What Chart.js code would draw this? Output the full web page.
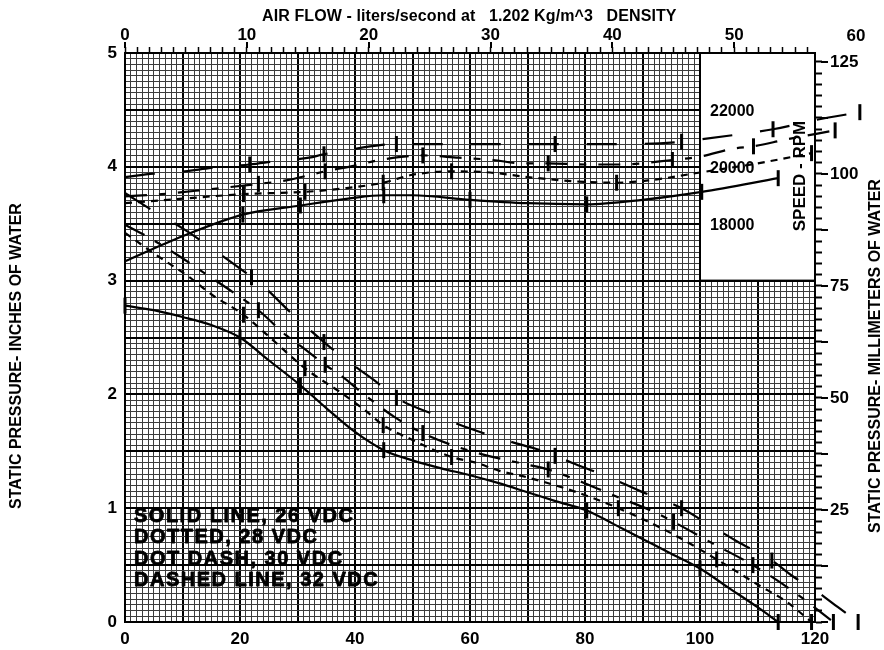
<!DOCTYPE html>
<html>
<head>
<meta charset="utf-8">
<title>Fan performance</title>
<script src="https://cdn.jsdelivr.net/npm/chart.js@4/dist/chart.umd.min.js"></script>
<style>
  html, body { margin: 0; padding: 0; background: #fff; }
  canvas { display: block; }
</style>
</head>
<body>
<canvas id="fan" width="884" height="650"></canvas>
<script>
// ---- Static pressure (in. of water) against air flow (CFM) ----
const flow26P  = [0, 5, 10, 15, 20, 25, 30.5, 35, 40, 45, 50, 55, 60, 65, 70, 75, 80.3, 85, 90, 95, 100, 105, 110, 113.6];
const press26  = [2.78, 2.74, 2.68, 2.61, 2.50, 2.30, 2.08, 1.88, 1.67, 1.51, 1.42, 1.35, 1.29, 1.22, 1.14, 1.06, 0.98, 0.86, 0.73, 0.60, 0.47, 0.30, 0.13, 0];
const marks26P = [0, 20, 30.5, 45, 80.3, 100, 113.6];

const flow28P  = [0, 5, 11.2, 15, 20.6, 25, 31.3, 38, 42, 44.9, 50, 56.8, 61, 65, 70, 78, 85.8, 95, 102.9, 110, 115, 119.4];
const press28  = [3.42, 3.24, 3.03, 2.88, 2.70, 2.51, 2.23, 2.00, 1.85, 1.73, 1.60, 1.45, 1.40, 1.33, 1.27, 1.15, 1.00, 0.78, 0.55, 0.33, 0.18, 0];
const marks28P = [20.6, 31.3, 44.9, 56.8, 85.8, 102.9, 119.4];

const flow30P  = [0, 3.4, 9.6, 13.1, 19, 23.2, 28, 31.5, 34.8, 37.7, 41.3, 46.9, 51.8, 57.7, 61.7, 69.3, 73.6, 80.9, 84.6, 91.9, 95.4, 102.6, 109.2, 116.2, 123.2];
const press30  = [3.49, 3.40, 3.21, 3.09, 2.89, 2.74, 2.52, 2.39, 2.26, 2.16, 2.01, 1.80, 1.66, 1.54, 1.48, 1.39, 1.34, 1.20, 1.12, 0.97, 0.88, 0.68, 0.50, 0.27, 0];
const marks30P = [23.2, 34.8, 51.8, 73.6, 95.4, 109.2, 123.2];

const flow32P  = [0, 5, 10.3, 14.9, 19.9, 22, 24.3, 29, 34.6, 38.5, 43.2, 47.2, 53.9, 60, 66, 72.8, 74.8, 77.7, 83.8, 89.6, 96.8, 100.8, 106.4, 112.5, 116.2, 120.3, 124, 127.5];
const press32  = [3.77, 3.61, 3.45, 3.29, 3.11, 3.03, 2.94, 2.71, 2.46, 2.30, 2.13, 1.97, 1.82, 1.70, 1.60, 1.50, 1.46, 1.40, 1.28, 1.15, 1.00, 0.88, 0.71, 0.54, 0.40, 0.27, 0.13, 0];
const marks32P = [22, 34.6, 47.2, 74.8, 96.8, 112.5, 127.5];

// ---- Fan speed (RPM) against air flow (CFM) ----
const flow26S  = [0, 10, 20.5, 30.5, 38.8, 45, 50, 60, 70, 80.3, 90, 100.3, 113.6];
const rpm26    = [16680, 17560, 18320, 18640, 18880, 19000, 19000, 18840, 18720, 18680, 18840, 19120, 19600];
const marks26S = [20.5, 30.5, 45, 60, 80.3, 100.3, 113.6];

const flow28S  = [0, 10, 20.6, 31.3, 38, 44.9, 50, 56.8, 63.5, 70, 79, 85.5, 91, 100, 110, 119.4];
const rpm28    = [18720, 18880, 19040, 19120, 19240, 19440, 19720, 19840, 19800, 19640, 19480, 19440, 19520, 19800, 20120, 20480];
const marks28S = [20.6, 31.3, 44.9, 56.8, 85.5, 119.4];

const flow30S  = [0, 6.4, 14.2, 23.2, 28, 34.8, 40, 44.3, 51.8, 58, 64, 69, 73.6, 80, 86, 95.2, 100, 105.8, 109.3, 115, 123.5];
const rpm30    = [18960, 19040, 19200, 19400, 19520, 19840, 20040, 20240, 20400, 20320, 20240, 20120, 20120, 20080, 20080, 20240, 20360, 20640, 20720, 20960, 21280];
const marks30S = [23.2, 34.8, 51.8, 73.6, 95.2, 109.3, 123.5];

const flow32S  = [0, 5, 10.4, 15, 21.7, 26.4, 32, 34.6, 37.1, 42.6, 47.2, 55, 65, 74.8, 87, 96.8, 100, 106, 112.7, 120, 127.8];
const rpm32    = [19640, 19760, 19840, 19960, 20080, 20200, 20320, 20440, 20520, 20720, 20800, 20800, 20800, 20800, 20800, 20880, 20960, 21120, 21320, 21640, 21920];
const marks32S = [21.7, 34.6, 47.2, 74.8, 96.8, 112.7, 127.8];

// ---- Axis labels ----
const cfmLabels  = [0, 20, 40, 60, 80, 100, 120];
const lpsLabels  = [0, 10, 20, 30, 40, 50, 60];
const inchLabels = [0, 1, 2, 3, 4, 5];
const mmLabels   = [25, 50, 75, 100, 125];
const rpmLabels  = [22000, 20000, 18000];
const legendLines = ['SOLID LINE, 26 VDC', 'DOTTED, 28 VDC', 'DOT DASH, 30 VDC', 'DASHED LINE, 32 VDC'];

const LPS_PER_CFM = 0.4719474;
const MM_PER_IN = 25.4;
const FONT = "'Liberation Sans', Arial, Helvetica, sans-serif";

function curve(label, flows, values, marks, dash, axis) {
  return {
    label,
    yAxisID: axis,
    data: flows.map((f, i) => ({ x: f, y: values[i] })),
    borderColor: '#000',
    borderWidth: 2.2,
    borderDash: dash,
    cubicInterpolationMode: 'monotone',
    fill: false,
    clip: false,
    pointStyle: 'line',
    pointRotation: 90,
    pointRadius: c => marks.includes(flows[c.dataIndex]) ? 8 : 0,
    pointHoverRadius: 0,
    pointBorderWidth: 3,
    pointBorderColor: '#000',
    pointBackgroundColor: '#000'
  };
}

const SOLID = [], DOTTED = [7, 6], DOTDASH = [22, 12, 7, 12], DASHED = [30, 28];

const isStep = (v, s) => Math.abs(v / s - Math.round(v / s)) < 1e-6;

// Labels, panel and axis captions drawn on the canvas around the plot
const annotate = {
  id: 'annotate',
  beforeDatasetsDraw(chart) {
    const { ctx, scales: { x, y, yr } } = chart;
    // blank panel in the upper-right corner holding the speed captions
    const l = x.getPixelForValue(100), r = x.getPixelForValue(120);
    const t = y.getPixelForValue(5), b = y.getPixelForValue(3);
    ctx.save();
    ctx.fillStyle = '#fff';
    ctx.fillRect(l, t, r - l, b - t);
    ctx.strokeStyle = '#000';
    ctx.lineWidth = 2;
    ctx.strokeRect(l, t, r - l, b - t);

    ctx.fillStyle = '#000';
    ctx.font = 'bold 16px ' + FONT;
    ctx.textAlign = 'left';
    ctx.textBaseline = 'middle';
    rpmLabels.forEach(v => ctx.fillText(String(v), 710, yr.getPixelForValue(v) + 2));

    ctx.save();
    ctx.translate(800, 176);
    ctx.rotate(-Math.PI / 2);
    ctx.textAlign = 'center';
    ctx.font = 'bold 17px ' + FONT;
    ctx.fillText('SPEED - RPM', 0, 0);
    ctx.restore();

    // line-style key, heavy lettering
    ctx.font = 'bold 20px ' + FONT;
    ctx.letterSpacing = '1.5px';
    ctx.strokeStyle = '#000';
    ctx.lineWidth = 0.8;
    ctx.lineJoin = 'round';
    legendLines.forEach((s, i) => {
      ctx.fillText(s, 134, 516 + i * 21.5);
      ctx.strokeText(s, 134, 516 + i * 21.5);
    });
    ctx.restore();
  },
  afterDatasetsDraw(chart) {
    const { ctx, chartArea: ca, scales: { x2, y2 } } = chart;
    // test-point marks that sit past the plot edge
    const full = { left: 0, top: 0, right: chart.width, bottom: chart.height };
    chart.data.datasets.forEach((ds, i) => {
      chart.getDatasetMeta(i).data.forEach(pt => {
        if (pt.x > ca.right + 1 || pt.x < ca.left - 1 || pt.y > ca.bottom + 1 || pt.y < ca.top - 1) {
          pt.draw(ctx, full);
        }
      });
    });

    ctx.save();
    ctx.strokeStyle = '#000';
    // longer marks at the labelled divisions of the top and right scales
    ctx.lineWidth = 2;
    lpsLabels.forEach(v => {
      if (v > x2.max) return;
      const px = Math.round(x2.getPixelForValue(v));
      ctx.beginPath(); ctx.moveTo(px, ca.top - 5); ctx.lineTo(px, ca.top - 11); ctx.stroke();
    });
    for (let v = 0; v <= y2.max; v += 12.5) {
      const py = Math.round(y2.getPixelForValue(v));
      ctx.beginPath(); ctx.moveTo(ca.right + 6, py); ctx.lineTo(ca.right + 13, py); ctx.stroke();
    }

    ctx.fillStyle = '#000';
    ctx.font = 'bold 17px ' + FONT;
    ctx.textAlign = 'center';
    ctx.textBaseline = 'middle';
    lpsLabels.forEach(v => {
      if (v > x2.max) ctx.fillText(String(v), x2.getPixelForValue(v), 36);
    });

    ctx.font = 'bold 16px ' + FONT;
    ctx.textAlign = 'left';
    ctx.letterSpacing = '0.1px';
    ctx.fillText('AIR FLOW - liters/second at   1.202 Kg/m^3   DENSITY', 262, 17);
    ctx.letterSpacing = '0px';

    ctx.textAlign = 'center';
    ctx.save();
    ctx.translate(17, 356);
    ctx.rotate(-Math.PI / 2);
    ctx.fillText('STATIC PRESSURE- INCHES OF WATER', 0, 0);
    ctx.restore();
    ctx.save();
    ctx.translate(876, 356);
    ctx.rotate(-Math.PI / 2);
    ctx.fillText('STATIC PRESSURE- MILLIMETERS OF WATER', 0, 0);
    ctx.restore();
    ctx.restore();
  }
};

const tickFont = { family: FONT, size: 17, weight: 'bold' };

new Chart(document.getElementById('fan'), {
  type: 'line',
  data: {
    datasets: [
      curve('26 VDC pressure', flow26P, press26, marks26P, SOLID, 'y'),
      curve('28 VDC pressure', flow28P, press28, marks28P, DOTTED, 'y'),
      curve('30 VDC pressure', flow30P, press30, marks30P, DOTDASH, 'y'),
      curve('32 VDC pressure', flow32P, press32, marks32P, DASHED, 'y'),
      curve('26 VDC speed', flow26S, rpm26, marks26S, SOLID, 'yr'),
      curve('28 VDC speed', flow28S, rpm28, marks28S, DOTTED, 'yr'),
      curve('30 VDC speed', flow30S, rpm30, marks30S, DOTDASH, 'yr'),
      curve('32 VDC speed', flow32S, rpm32, marks32S, DASHED, 'yr')
    ]
  },
  options: {
    responsive: false,
    devicePixelRatio: 1,
    animation: false,
    events: [],
    layout: { padding: 0 },
    plugins: { legend: { display: false }, tooltip: { enabled: false } },
    scales: {
      x: {
        type: 'linear',
        position: 'bottom',
        afterDataLimits: s => { s.min = cfmLabels[0]; s.max = cfmLabels[cfmLabels.length - 1]; },
        afterFit: s => { s.height = 28; },
        grid: {
          drawTicks: false,
          color: c => isStep(c.tick.value, 10) ? '#000' : '#3c3c3c',
          lineWidth: c => isStep(c.tick.value, 10) ? 2 : 1
        },
        border: { display: true, color: '#000', width: 2 },
        ticks: {
          stepSize: 1, autoSkip: false, maxRotation: 0, padding: 7,
          color: '#000', font: tickFont,
          callback: v => cfmLabels.includes(v) ? String(v) : ''
        }
      },
      x2: {
        type: 'linear',
        position: 'top',
        min: 0,
        max: cfmLabels[cfmLabels.length - 1] * LPS_PER_CFM,
        bounds: 'data',
        afterFit: s => { s.height = 53; },
        grid: {
          drawOnChartArea: false, drawTicks: true, tickLength: 6, tickWidth: 1.5,
          tickColor: c => isStep(c.tick.value, 1) ? '#000' : 'rgba(0,0,0,0)'
        },
        border: { display: true, color: '#000', width: 2 },
        ticks: {
          stepSize: 1, autoSkip: false, maxRotation: 0, padding: 1, includeBounds: false,
          color: '#000', font: tickFont,
          callback: v => lpsLabels.includes(v) ? String(v) : ''
        }
      },
      y: {
        type: 'linear',
        position: 'left',
        min: inchLabels[0],
        max: inchLabels[inchLabels.length - 1],
        afterFit: s => { s.width = 125; },
        grid: {
          drawTicks: false,
          color: c => isStep(c.tick.value, 0.5) ? '#000' : '#3c3c3c',
          lineWidth: c => isStep(c.tick.value, 0.5) ? 2 : 1
        },
        border: { display: true, color: '#000', width: 2 },
        ticks: {
          stepSize: 0.05, autoSkip: false, padding: 8,
          color: '#000', font: tickFont,
          callback: v => inchLabels.includes(Math.round(v * 100) / 100) ? String(Math.round(v)) : ''
        }
      },
      y2: {
        type: 'linear',
        position: 'right',
        min: 0,
        max: inchLabels[inchLabels.length - 1] * MM_PER_IN,
        bounds: 'data',
        afterFit: s => { s.width = 69; },
        grid: {
          drawOnChartArea: false, drawTicks: true, tickLength: 7, tickWidth: 2,
          tickColor: c => isStep(c.tick.value, 2.5) ? '#000' : 'rgba(0,0,0,0)'
        },
        border: { display: true, color: '#000', width: 2 },
        ticks: {
          stepSize: 2.5, autoSkip: false, padding: 8, includeBounds: false,
          color: '#000', font: tickFont,
          callback: v => mmLabels.includes(v) ? String(v) : ''
        }
      },
      yr: {
        type: 'linear',
        display: false,
        min: 4000,
        max: 24000
      }
    }
  },
  plugins: [annotate]
});
</script>
</body>
</html>
